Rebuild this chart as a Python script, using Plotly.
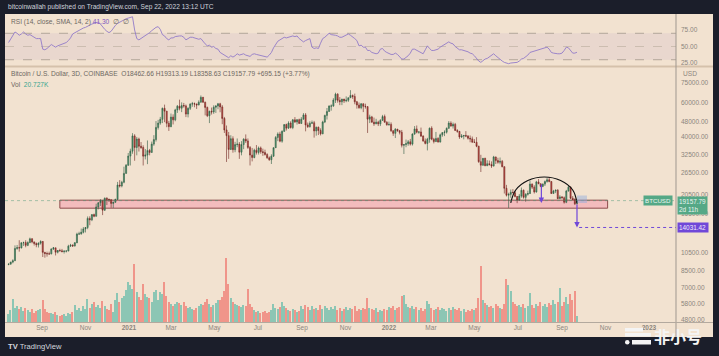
import math
from datetime import date, timedelta
import plotly.graph_objects as go

# ---------------- data (3-day bars, COINBASE BTC/USD) ----------------
first_bar = "2020-07-16"
bar_days = 3
first_open = 9130

closes = [
    9170, 9390, 9540, 11000, 11100, 11070, 11750, 11770, 11400, 11780,
    12300, 11870, 11650, 11480, 11700, 11920, 10510, 10370, 10340, 10330,
    10940, 11080, 10530, 10740, 10700, 10620, 10670, 10670, 11300, 11420,
    11320, 11750, 12990, 13030, 13270, 13800, 14030, 15590, 15330, 16300,
    15970, 17800, 18680, 19160, 17150, 19700, 19450, 19370, 18550, 18800,
    19440, 22950, 22730, 23720, 26280, 28880, 32130, 34000, 40600, 35500,
    39150, 36000, 35500, 32100, 32500, 34300, 33500, 36900, 38900, 44800,
    47100, 49200, 55900, 54100, 47000, 45200, 50500, 48900, 54900, 57300,
    56000, 57700, 57500, 52300, 55900, 58700, 59000, 58800, 58100, 60000,
    63500, 60000, 56500, 51300, 54000, 53600, 56600, 57400, 58900, 56800,
    49700, 43500, 40700, 34700, 39300, 34600, 36700, 36900, 33600, 36700,
    39100, 38300, 35500, 32500, 31600, 34400, 33500, 35300, 33800, 33500,
    32700, 31500, 30800, 32100, 35400, 39900, 41500, 38200, 42800, 46300,
    44400, 47100, 44700, 48900, 47700, 49000, 46900, 49300, 51800, 46100,
    45200, 47000, 47300, 43000, 44900, 43200, 41600, 47700, 51500, 53900,
    57400, 57400, 61500, 65900, 61300, 60300, 62200, 61000, 61400, 63200,
    64900, 64100, 60300, 58100, 56300, 58900, 57200, 57000, 49300, 50600,
    47600, 46700, 47600, 46700, 48600, 50800, 47600, 46200, 46400, 43100,
    41800, 43900, 43100, 42300, 36400, 36700, 37100, 37900, 36900, 41500,
    44000, 42400, 42500, 40500, 38300, 37200, 39100, 44400, 39100, 38000,
    39400, 37800, 41100, 42200, 42400, 44300, 47100, 45500, 46400, 43200,
    42800, 40100, 40500, 40800, 40500, 39500, 39200, 37700, 37700, 36000,
    30100, 28900, 31300, 28700, 29400, 29100, 28600, 31800, 30500, 29900,
    30200, 28400, 22100, 20400, 20600, 21100, 21000, 20100, 19300, 20200,
    21600, 19900, 20600, 20800, 23200, 22400, 21200, 23800, 23300, 22600,
    23200, 23900, 24400, 23900, 20800, 21400, 21600, 19600, 20000, 19800,
    18800, 21400, 22400, 19700, 19400, 18462.66, 19157.79,
]

highs = [
    9250, 9420, 9700, 11400, 11450, 12100, 11800, 11900, 12100, 11950,
    12470, 12400, 11900, 11800, 11800, 12100, 12000, 10570, 10600, 10600,
    11000, 11180, 11080, 10800, 10960, 10940, 10750, 10770, 11480, 11600,
    11550, 11850, 13200, 13350, 13850, 14100, 14080, 15950, 15980, 16350,
    16480, 18480, 18820, 19490, 19200, 19870, 19920, 19600, 19420, 18900,
    19580, 23800, 24300, 24100, 28400, 29300, 33300, 35000, 41900, 41400,
    40100, 39770, 37800, 36400, 34850, 38500, 34900, 38000, 40950, 48200,
    48900, 50600, 56400, 58350, 54200, 48300, 52600, 52150, 55600, 58100,
    61800, 59900, 59500, 58400, 56600, 59300, 60200, 59800, 59000, 61300,
    64900, 63800, 60400, 57000, 54400, 56400, 57900, 58000, 59500, 59600,
    58000, 50600, 45800, 42500, 40900, 40400, 37900, 39400, 37800, 38200,
    39500, 41300, 39400, 36100, 35300, 35000, 36500, 35900, 35900, 35000,
    34600, 33200, 32000, 32800, 35500, 40500, 42300, 42600, 43300, 46500,
    46800, 48100, 48100, 49400, 50500, 49300, 49600, 50500, 52900, 52900,
    47400, 48100, 48500, 48300, 45200, 45200, 44300, 48400, 51900, 56100,
    57900, 58500, 62900, 67000, 66600, 63700, 62400, 62400, 64200, 63300,
    69000, 65600, 66300, 60900, 59800, 59400, 59200, 59000, 57400, 51900,
    51200, 50200, 49500, 48400, 49300, 51800, 52000, 48100, 47900, 47500,
    43300, 44400, 44000, 43500, 43500, 36900, 38900, 38700, 39200, 41800,
    45500, 45800, 42800, 44700, 40900, 39400, 39700, 44700, 45400, 39700,
    42500, 40000, 41700, 42300, 43300, 44800, 48200, 48100, 47400, 47200,
    43900, 42900, 41500, 40800, 42900, 41000, 40800, 40300, 39100, 40000,
    36200, 32600, 31400, 31500, 30600, 30500, 30200, 32200, 31900, 31500,
    31600, 30700, 28500, 23000, 21000, 21800, 21900, 21500, 20200, 20700,
    22300, 21800, 20900, 21500, 24200, 23400, 22900, 24100, 24600, 23400,
    23400, 24200, 24900, 25200, 24000, 21700, 21800, 21900, 20400, 20200,
    20100, 21700, 22800, 22600, 20200, 19700, 19313.19,
]

lows = [
    9050, 9130, 9260, 9540, 10830, 10600, 11000, 11330, 11150, 11300,
    11690, 11680, 11380, 11150, 11120, 11500, 9960, 9880, 10000, 10200,
    10270, 10800, 10140, 10380, 10630, 10500, 10370, 10500, 10650, 11200,
    11200, 11250, 11700, 12880, 12900, 13100, 13240, 13750, 14400, 15100,
    15800, 15950, 17300, 18000, 16200, 17000, 18200, 18860, 17650, 17600,
    18700, 19300, 22300, 22350, 23420, 26180, 28700, 28800, 33000, 30420,
    32400, 33850, 34900, 28800, 30900, 29250, 32400, 33450, 36200, 38000,
    43700, 46200, 47100, 47600, 44900, 43000, 44900, 46350, 48100, 53000,
    54600, 53500, 56300, 50500, 50300, 54800, 56900, 56600, 55500, 57900,
    59800, 59600, 51500, 50500, 47100, 52000, 52400, 53000, 55300, 53400,
    46500, 42000, 30000, 31100, 34500, 33400, 33600, 35600, 31100, 32400,
    34800, 37400, 34900, 28800, 30200, 31300, 32700, 32700, 33000, 32200,
    32300, 31100, 30400, 29300, 31800, 35300, 38200, 37700, 37500, 42500,
    43200, 44100, 44200, 43900, 47200, 46300, 46700, 46700, 49100, 42800,
    44500, 44700, 46700, 39800, 40700, 41000, 40800, 41400, 47100, 49100,
    53700, 54400, 56900, 59500, 59700, 58000, 58000, 59500, 60000, 60200,
    63000, 62400, 58600, 55700, 55600, 55300, 53500, 55700, 42000, 47100,
    47300, 45600, 46500, 45500, 45500, 48600, 47300, 45700, 45700, 42500,
    40600, 39600, 42600, 41300, 35500, 32900, 35600, 36200, 36300, 36300,
    41100, 41800, 41600, 40100, 37900, 36800, 34300, 37500, 38600, 37200,
    37900, 37600, 37600, 40200, 40500, 41700, 44200, 45200, 44200, 43100,
    42100, 39200, 39600, 39000, 40000, 38900, 37700, 37600, 37400, 35600,
    29700, 26700, 28700, 28600, 28700, 28800, 28000, 28500, 29300, 29400,
    29200, 28200, 20800, 20100, 17600, 19800, 20900, 19900, 18600, 19100,
    19800, 19600, 18900, 20300, 20700, 21900, 20800, 21000, 23200, 22400,
    22400, 22700, 23600, 23700, 20700, 20800, 20900, 19500, 19600, 19600,
    18500, 18600, 21300, 19500, 19300, 18200, 18358.63,
]

# volume in thousand BTC
volumes = [
    26, 40, 76, 46, 53, 43, 50, 36, 46, 40,
    33, 43, 30, 36, 40, 43, 73, 43, 33, 30,
    30, 26, 33, 23, 20, 23, 26, 20, 30, 26,
    33, 56, 40, 46, 36, 53, 43, 76, 46, 59,
    66, 50, 56, 46, 69, 53, 43, 40, 59, 33,
    73, 96, 66, 79, 86, 106, 132, 122, 109, 191,
    99, 83, 73, 125, 92, 83, 79, 66, 99, 106,
    73, 99, 92, 132, 86, 66, 59, 53, 59, 66,
    63, 56, 66, 53, 46, 50, 43, 40, 46, 53,
    59, 56, 66, 76, 59, 50, 56, 63, 73, 73,
    83, 102, 211, 125, 79, 66, 59, 56, 53, 50,
    56, 53, 109, 59, 50, 40, 33, 36, 30, 33,
    36, 30, 33, 40, 59, 46, 43, 50, 66, 53,
    46, 40, 36, 43, 40, 33, 36, 53, 43, 56,
    50, 40, 53, 43, 46, 40, 56, 43, 53, 46,
    40, 50, 43, 53, 40, 46, 36, 43, 50, 40,
    46, 43, 53, 36, 43, 40, 46, 43, 79, 46,
    43, 40, 46, 33, 40, 36, 43, 40, 50, 46,
    53, 40, 46, 50, 86, 89, 59, 50, 46, 53,
    43, 50, 40, 46, 36, 43, 69, 59, 46, 40,
    43, 50, 40, 46, 43, 36, 46, 40, 50, 43,
    40, 46, 36, 43, 33, 40, 36, 43, 40, 46,
    79, 185, 73, 63, 56, 50, 53, 46, 59, 53,
    46, 43, 59, 142, 122, 102, 66, 59, 53, 56,
    50, 59, 46, 53, 96, 56, 46, 59, 53, 66,
    53, 59, 50, 63, 56, 73, 59, 66, 112, 53,
    66, 83, 59, 92, 73, 102, 20.727,
]

rsi_values = [
    56, 62, 68, 72, 70, 67, 69, 72, 69, 67,
    68, 66, 64, 62, 62, 62, 46, 45, 47, 50,
    53, 51, 49, 51, 52, 53, 54, 56, 59, 63,
    69, 71, 73, 74, 76, 78, 79, 81, 82, 84,
    85, 86, 87, 84, 79, 76, 73, 71, 73, 78,
    82, 85, 87, 89, 90, 92, 93, 94, 95, 75,
    62, 60, 62, 64, 66, 69, 71, 74, 77, 79,
    80, 76, 68, 66, 62, 60, 63, 63, 65, 66,
    66, 66, 64, 60, 62, 64, 64, 63, 61, 61,
    62, 57, 54, 51, 52, 49, 50, 47, 46, 41,
    39, 37, 35, 33, 36, 34, 36, 39, 37, 38,
    39, 37, 36, 35, 38, 39, 38, 37, 36, 35,
    35, 34, 37, 41, 48, 54, 58, 60, 62, 64,
    63, 64, 64, 66, 65, 66, 62, 59, 57, 59,
    60, 62, 49, 47, 48, 47, 55, 62, 64, 67,
    70, 68, 68, 67, 66, 64, 64, 66, 68, 69,
    67, 65, 62, 59, 51, 52, 49, 49, 44, 44,
    41, 40, 39, 40, 46, 47, 43, 41, 39, 38,
    38, 40, 38, 35, 31, 31, 33, 36, 40, 46,
    46, 44, 42, 40, 39, 45, 51, 47, 44, 44,
    45, 46, 49, 51, 53, 56, 57, 55, 54, 50,
    47, 45, 45, 44, 44, 42, 40, 39, 36, 31,
    28, 26, 29, 31, 32, 34, 36, 39, 36, 33,
    31, 28, 26, 25, 24, 25, 25, 26, 26, 28,
    31, 32, 34, 37, 41, 42, 43, 44, 45, 45,
    46, 48, 49, 46, 41, 40, 39, 39, 39, 40,
    44, 49, 48, 44, 40, 40, 41.3,
]

# drawings made on the chart
zone_start, zone_end = "2020-09-26", "2022-11-04"
zone_low, zone_high = 17550, 19260
arc_dates = ["2022-06-21", "2022-06-28", "2022-07-15", "2022-08-07",
             "2022-08-30", "2022-09-16", "2022-09-22"]
arc_prices = [18640, 21670, 24196, 25193, 24196, 21670, 18640]
arrow_dates = ["2022-08-03", "2022-09-22"]
arrow_from = [23500, 18640]
arrow_to = [18640, 14031.42]
target_price = 14031.42
last_price = 19157.79
marker_dates = ["2022-09-22", "2022-10-06"]
marker_prices = [18640, 20330]

# axis ticks
price_ticks = [75000, 60000, 48000, 40000, 32500, 26500, 20500, 16500,
               10500, 8500, 7000, 5800, 4800]
rsi_ticks = [25, 50, 75]
month_ticks = ["2020-09-01", "2020-11-01", "2021-01-01", "2021-03-01",
               "2021-05-01", "2021-07-01", "2021-09-01", "2021-11-01",
               "2022-01-01", "2022-03-01", "2022-05-01", "2022-07-01",
               "2022-09-01", "2022-11-01", "2023-01-01"]
month_labels = ["Sep", "Nov", "<b>2021</b>", "Mar", "May", "Jul", "Sep", "Nov",
                "<b>2022</b>", "Mar", "May", "Jul", "Sep", "Nov", "<b>2023</b>"]

# ---------------- derived ----------------
d0 = date.fromisoformat(first_bar)
dates = [(d0 + timedelta(days=bar_days * i)).isoformat() for i in range(len(closes))]
opens = [first_open] + closes[:-1]

BEIGE = "#f2e2d0"
DARK = "#1b1e2a"
AXIS_TXT = "#8c857d"
UP, UP_LINE = "#4f9a70", "#2c5a41"
DN, DN_LINE = "#c4463f", "#6e2420"
VOL_UP, VOL_DN = "#8cc6b4", "#f0958a"
PURPLE = "#7048d8"
GREEN_LBL = "#55a886"

vol_colors = [VOL_UP if c >= o else VOL_DN for o, c in zip(opens, closes)]

fig = go.Figure()

fig.add_trace(go.Bar(
    x=dates, y=volumes, yaxis="y3", xaxis="x",
    marker=dict(color=vol_colors, line=dict(width=0)),
    width=bar_days * 86400000 * 0.68, hoverinfo="skip",
))

fig.add_trace(go.Candlestick(
    x=dates, open=opens, high=highs, low=lows, close=closes,
    xaxis="x", yaxis="y2", whiskerwidth=0,
    increasing=dict(fillcolor=UP, line=dict(color=UP_LINE, width=0.6)),
    decreasing=dict(fillcolor=DN, line=dict(color=DN_LINE, width=0.6)),
    hoverinfo="skip",
))

fig.add_trace(go.Scatter(
    x=arc_dates, y=arc_prices, xaxis="x", yaxis="y2", mode="lines",
    line=dict(color="#111111", width=1.2, shape="spline", smoothing=1.1),
    hoverinfo="skip",
))

fig.add_trace(go.Scatter(
    x=dates, y=rsi_values, xaxis="x", yaxis="y", mode="lines",
    line=dict(color="#927ac8", width=0.9), hoverinfo="skip",
))

# ---------------- geometry helpers (pixel -> paper) ----------------
W, H = 719, 356
L, R, T, B = 5, 43, 14, 34
PW, PH = W - L - R, H - T - B


def px(xp):
    return (xp - L) / PW


def py(yp):
    return (H - B - yp) / PH


lg = math.log10
shapes = [
    # beige chart canvas (incl. axis area)
    dict(type="rect", xref="paper", yref="paper", x0=px(5), x1=px(713),
         y0=py(337), y1=py(14), fillcolor=BEIGE, line=dict(width=0), layer="below"),
    # RSI band
    dict(type="rect", xref="paper", yref="y", x0=0, x1=1, y0=30, y1=70,
         fillcolor="rgba(126,87,194,0.08)", line=dict(width=0), layer="below"),
    dict(type="line", xref="paper", yref="y", x0=0, x1=1, y0=70, y1=70,
         line=dict(color="#a5988d", width=0.8, dash="dash"), layer="below"),
    dict(type="line", xref="paper", yref="y", x0=0, x1=1, y0=30, y1=30,
         line=dict(color="#a5988d", width=0.8, dash="dash"), layer="below"),
    dict(type="line", xref="paper", yref="y", x0=0, x1=1, y0=50, y1=50,
         line=dict(color="#c4b6a8", width=0.8, dash="dash"), layer="below"),
    # support zone (shape coordinates on a log axis are data values)
    dict(type="rect", xref="x", yref="y2", x0=zone_start, x1=zone_end,
         y0=zone_low, y1=zone_high, fillcolor="#f3bcbd",
         line=dict(color="#8e4c4c", width=1), layer="below"),
    # last price line
    dict(type="line", xref="paper", yref="y2", x0=0, x1=1,
         y0=last_price, y1=last_price,
         line=dict(color="rgba(70,150,115,0.45)", width=1, dash="dot")),
    # target dotted line
    dict(type="line", xref="x", yref="y2", x0="2022-09-25", x1="2023-02-08",
         y0=target_price, y1=target_price,
         line=dict(color=PURPLE, width=1, dash="dot")),
    # selection marker
    dict(type="rect", xref="x", yref="y2", x0=marker_dates[0], x1=marker_dates[1],
         y0=marker_prices[0], y1=marker_prices[1],
         fillcolor="rgba(140,170,225,0.45)", line=dict(width=0)),
    # pane separators
    dict(type="line", xref="paper", yref="paper", x0=px(5), x1=px(713),
         y0=py(66.5), y1=py(66.5), line=dict(color="#d5c1ab", width=2)),
    dict(type="line", xref="paper", yref="paper", x0=1, x1=1,
         y0=py(337), y1=py(14), line=dict(color="#9f978f", width=1)),
    dict(type="line", xref="paper", yref="paper", x0=px(5), x1=px(713),
         y0=py(322.5), y1=py(322.5), line=dict(color="#b3a99e", width=1)),
    # watermark logo blocks
    dict(type="rect", xref="paper", yref="paper", x0=px(625), x1=px(643),
         y0=py(331.5), y1=py(328), fillcolor="#f4f4f4", line=dict(width=0)),
    dict(type="rect", xref="paper", yref="paper", x0=px(625), x1=px(651),
         y0=py(336.5), y1=py(333), fillcolor="#f4f4f4", line=dict(width=0)),
    dict(type="circle", xref="paper", yref="paper", x0=px(625), x1=px(629.5),
         y0=py(344.5), y1=py(340), fillcolor="#f4f4f4", line=dict(width=0)),
    dict(type="rect", xref="paper", yref="paper", x0=px(632), x1=px(651),
         y0=py(344.5), y1=py(340), fillcolor="#f4f4f4", line=dict(width=0)),
]

FONT = "Liberation Sans, Arial, sans-serif"
ann = []


def txt(x, y, text, size=6.6, color="#6d6862", family=FONT, xanchor="left"):
    ann.append(dict(xref="paper", yref="paper", x=x, y=y, text=text, showarrow=False,
                    xanchor=xanchor, yanchor="middle",
                    font=dict(family=family, size=size, color=color)))


txt(px(6), py(7), "bitcoinwallah published on TradingView.com, Sep 22, 2022 13:12 UTC",
    size=6.6, color="#cfd2da")
txt(px(9), py(22),
    "RSI (14, close, SMA, 14, 2) <span style='color:#7e57c2'>41.30</span>  \u2205  \u2205")
txt(px(9), py(74),
    "Bitcoin / U.S. Dollar, 3D, COINBASE  O18462.66 H19313.19 L18358.63 C19157.79 +695.15 (+3.77%)")
txt(px(9), py(84), "Vol  <span style='color:#3aa58f'>20.727K</span>")
txt(px(681), py(74), "USD", color=AXIS_TXT)
txt(px(6), py(346), "<b>TV</b> TradingView", size=7.6, color="#d5d8df")
txt(px(652), py(336), "<b>非小号</b>", size=16, color="#f4f4f4", family="Noto Sans CJK SC")

# price labels on the axis
ann.append(dict(xref="paper", yref="y2", x=px(673), y=lg(last_price), text="BTCUSD",
                showarrow=False, xanchor="right", yanchor="middle", bgcolor=GREEN_LBL,
                borderpad=1, font=dict(family=FONT, size=6.2, color="#eaf5ef")))
ann.append(dict(xref="paper", yref="y2", x=px(677), y=lg(last_price),
                text="19157.79<br>2d 11h", align="left", showarrow=False,
                xanchor="left", yanchor="top", yshift=5, bgcolor=GREEN_LBL,
                borderpad=1, font=dict(family=FONT, size=6.4, color="#eaf5ef")))
ann.append(dict(xref="paper", yref="y2", x=px(677), y=lg(target_price),
                text="14031.42 ", showarrow=False, xanchor="left", yanchor="middle",
                bgcolor=PURPLE, borderpad=1,
                font=dict(family=FONT, size=6.4, color="#f1ecfb")))

# projection arrows (annotation coordinates on a log axis are log10 values)
for d, a, b in zip(arrow_dates, arrow_from, arrow_to):
    ann.append(dict(xref="x", yref="y2", axref="x", ayref="y2", x=d, y=lg(b),
                    ax=d, ay=lg(a), text="", showarrow=True, arrowhead=2,
                    arrowsize=0.9, arrowwidth=1.2, arrowcolor=PURPLE))

# ---------------- layout ----------------
tick_font = dict(family=FONT, size=6.5, color=AXIS_TXT)
fig.update_layout(
    width=W, height=H,
    margin=dict(l=L, r=R, t=T, b=B, pad=0),
    paper_bgcolor=DARK, plot_bgcolor=BEIGE,
    showlegend=False, hovermode=False,
    bargap=0,
    shapes=shapes, annotations=ann,
    xaxis=dict(
        type="date", range=["2020-07-11", "2023-02-08"], anchor="y2",
        tickmode="array", tickvals=month_ticks, ticktext=month_labels,
        tickfont=tick_font, showgrid=False, zeroline=False, ticks="",
        showline=False, rangeslider=dict(visible=False), fixedrange=True,
    ),
    yaxis=dict(
        domain=[py(66), 1], range=[20.5, 99.2], side="right", anchor="x",
        tickmode="array", tickvals=rsi_ticks,
        ticktext=[f"{v:.2f}" for v in rsi_ticks], tickfont=tick_font,
        showgrid=False, zeroline=False, ticks="", ticklabelstandoff=4,
    ),
    yaxis2=dict(
        domain=[0, py(67)], type="log", range=[3.6708, 4.9556], side="right",
        anchor="x", tickmode="array", tickvals=price_ticks,
        ticktext=[f"{v:.2f}" for v in price_ticks], tickfont=tick_font,
        showgrid=False, zeroline=False, ticks="", ticklabelstandoff=4,
    ),
    yaxis3=dict(
        overlaying="y2", range=[0, 841], visible=False, showgrid=False,
        zeroline=False,
    ),
)

fig.write_html(
    "out.html",
    config={"displayModeBar": False},
    post_script="document.body.style.margin='0';document.body.style.background='#1b1e2a';",
)
